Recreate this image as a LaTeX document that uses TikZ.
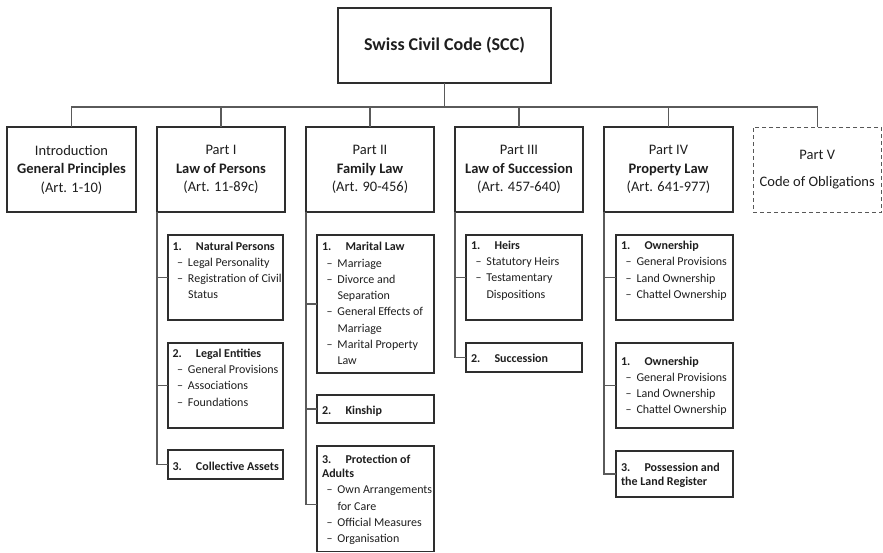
\documentclass[tikz,border=0pt]{standalone}
\usepackage{fontspec}
\setmainfont{Carlito}
\usetikzlibrary{calc}
\definecolor{connc}{HTML}{5A5A5A}
\definecolor{bordc}{HTML}{2E2E2E}
\definecolor{txtc}{HTML}{1E1E1E}
\newcommand{\subhead}[2]{\textbf{\makebox[23.5pt][l]{#1}#2}}
\newcommand{\itemline}[1]{\hspace*{4.5pt}\makebox[11pt][l]{–}#1}
\newcommand{\contline}[1]{\hspace*{15.5pt}#1}
\newcommand{\firststrut}{\rule{0pt}{10pt}}
\tikzset{
  box/.style={draw=bordc, line width=1.2pt, anchor=north west, inner sep=0pt, outer sep=0pt, text=txtc},
  partbox/.style={box, align=center, font=\fontsize{14.5}{18.5}\selectfont},
  dashbox/.style={partbox, draw=bordc!80, line width=1pt, dash pattern=on 4pt off 3pt},
  titlebox/.style={box, font=\fontsize{18}{22}\selectfont\bfseries},
  subbox/.style={box, line width=1.3pt},
  subtext/.style={anchor=north west, inner sep=0pt, outer sep=0pt, align=left, text=txtc, font=\fontsize{12}{16.3}\selectfont},
  connector/.style={draw=connc, line width=1.2pt},
}
\begin{document}
\begin{tikzpicture}[x=1pt,y=-1pt]
\useasboundingbox (0,0) rectangle (883,552);
% title
\node[titlebox, minimum width=213pt, minimum height=75pt] (scc) at (338,8) {Swiss Civil Code (SCC)};
\coordinate (bus) at (0,107);
% parts
\node[partbox, minimum width=129pt, minimum height=85pt] (intro) at (7,127) {Introduction\\\textbf{General Principles}\\(Art. 1-10)};
\node[partbox, minimum width=128pt, minimum height=85pt] (persons) at (157,127) {Part I\\\textbf{Law of Persons}\\(Art. 11-89c)};
\node[partbox, minimum width=128pt, minimum height=85pt] (family) at (306,127) {Part II\\\textbf{Family Law}\\(Art. 90-456)};
\node[partbox, minimum width=128pt, minimum height=85pt] (succession) at (455,127) {Part III\\\textbf{Law of Succession}\\(Art. 457-640)};
\node[partbox, minimum width=129pt, minimum height=85pt] (property) at (604,127) {Part IV\\\textbf{Property Law}\\(Art. 641-977)};
\node[dashbox, minimum width=128.5pt, minimum height=85pt] (oblig) at (753,127) {Part V\\[8pt]Code of Obligations};
% connectors from title
\foreach \p in {intro,persons,family,succession,property,oblig}{
  \draw[connector] (\p.north) -- (\p.north |- bus) -| (scc.south);
}
% Part I children
\node[subbox, minimum width=115pt, minimum height=85pt] (np) at (168,235) {};
\node[subtext] (npt) at (172.5,240) {\firststrut\subhead{1.}{Natural Persons}\\\itemline{Legal Personality}\\\itemline{Registration of Civil}\\\contline{Status}};
\node[subbox, minimum width=115pt, minimum height=85pt] (le) at (168,343) {};
\node[subtext] (let) at (172.5,347.3) {\firststrut\subhead{2.}{Legal Entities}\\\itemline{General Provisions}\\\itemline{Associations}\\\itemline{Foundations}};
\node[subbox, minimum width=115pt, minimum height=29pt] (ca) at (168,450) {};
\node[subtext] (cat) at (172.5,460) {\firststrut\subhead{3.}{Collective Assets}};
\draw[connector] (persons.south west) |- (ca.west);
\draw[connector] (persons.south west |- np.west) -- (np.west);
\draw[connector] (persons.south west |- le.west) -- (le.west);
% Part II children
\node[subbox, minimum width=117pt, minimum height=138pt] (ml) at (317,235) {};
\node[subtext] (mlt) at (322,240.7) {\firststrut\subhead{1.}{Marital Law}\\\itemline{Marriage}\\\itemline{Divorce and}\\\contline{Separation}\\\itemline{General Effects of}\\\contline{Marriage}\\\itemline{Marital Property}\\\contline{Law}};
\node[subbox, minimum width=117pt, minimum height=28pt] (kin) at (317,395) {};
\node[subtext] (kint) at (322,404.7) {\firststrut\subhead{2.}{Kinship}};
\node[subbox, minimum width=117pt, minimum height=105.5pt] (pa) at (317,446) {};
\node[subtext] (pat) at (322,453.3) {\firststrut\subhead{3.}{Protection of}\\[-2pt]\textbf{Adults}\\\itemline{Own Arrangements}\\\contline{for Care}\\\itemline{Official Measures}\\\itemline{Organisation}};
\draw[connector] (family.south west) |- ($(pa.west)+(0,5.5)$);
\draw[connector] (family.south west |- ml.west) -- (ml.west);
\draw[connector] (family.south west |- kin.west) -- (kin.west);
% Part III children
\node[subbox, minimum width=116pt, minimum height=85pt] (heirs) at (466,235) {};
\node[subtext] (heirst) at (471,239.3) {\firststrut\subhead{1.}{Heirs}\\\itemline{Statutory Heirs}\\\itemline{Testamentary}\\\contline{Dispositions}};
\node[subbox, minimum width=116pt, minimum height=29pt] (succ) at (466,343) {};
\node[subtext] (succt) at (471,352.3) {\firststrut\subhead{2.}{Succession}};
\draw[connector] (succession.south west) |- (succ.west);
\draw[connector] (succession.south west |- heirs.west) -- (heirs.west);
% Part IV children
\node[subbox, minimum width=117pt, minimum height=85pt] (own1) at (616,235) {};
\node[subtext] (own1t) at (621,239.5) {\firststrut\subhead{1.}{Ownership}\\\itemline{General Provisions}\\\itemline{Land Ownership}\\\itemline{Chattel Ownership}};
\node[subbox, minimum width=117pt, minimum height=85pt] (own2) at (616,343) {};
\node[subtext] (own2t) at (621,355) {\firststrut\subhead{1.}{Ownership}\\\itemline{General Provisions}\\\itemline{Land Ownership}\\\itemline{Chattel Ownership}};
\node[subbox, minimum width=117pt, minimum height=46pt] (poss) at (616,451) {};
\node[subtext] (posst) at (621,461.3) {\firststrut\subhead{3.}{Possession and}\\[-2.5pt]\textbf{the Land Register}};
\draw[connector] (property.south west) |- (poss.west);
\draw[connector] (property.south west |- own1.west) -- (own1.west);
\draw[connector] (property.south west |- own2.west) -- (own2.west);
\end{tikzpicture}
\end{document}
